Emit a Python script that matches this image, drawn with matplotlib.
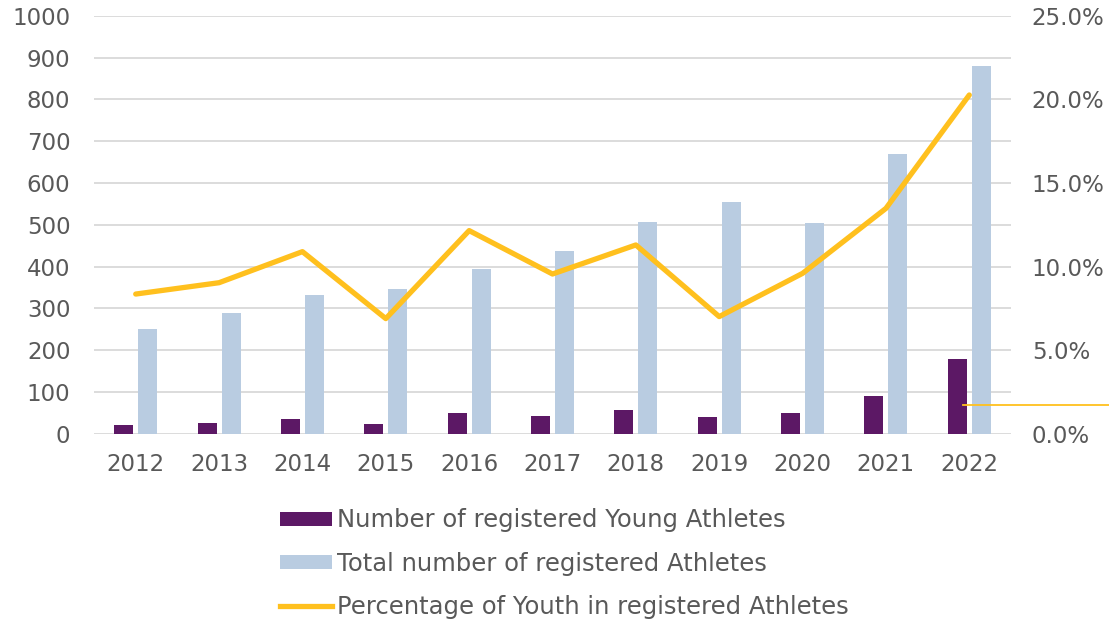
import matplotlib
matplotlib.use("Agg")
import matplotlib.pyplot as plt
import numpy as np
from matplotlib.patches import Patch
from matplotlib.lines import Line2D
from matplotlib.ticker import FuncFormatter

# dados
anos = ['2012', '2013', '2014', '2015', '2016', '2017', '2018', '2019', '2020', '2021', '2022']
jovens = [20, 25, 35, 23, 48, 42, 56, 39, 48, 90, 178]
total = [250, 288, 331, 346, 395, 437, 507, 554, 504, 669, 880]
percentual = [8.35, 9.03, 10.89, 6.88, 12.15, 9.55, 11.29, 7.0, 9.59, 13.48, 20.27]

ROXO = '#5C1865'
AZUL = '#B9CCE1'
AMARELO = '#FFC01E'
CINZA = '#595959'
TAM = 16.5

plt.rcParams['font.family'] = ['DejaVu Sans']

fig = plt.figure(figsize=(11.09, 6.2), dpi=100)
ax = fig.add_axes([0.0848, 0.3008, 0.8268, 0.6734])
x = np.arange(len(anos))
largura = 0.228

ax.bar(x - 0.144, jovens, largura, color=ROXO, zorder=3)
ax.bar(x + 0.144, total, largura, color=AZUL, zorder=3)
ax.set_ylim(0, 1000)
ax.set_xlim(-0.5, len(anos) - 0.5)
ax.set_yticks(range(0, 1001, 100))
ax.set_xticks(x)
ax.set_xticklabels(anos)
ax.grid(axis='y', color='#D9D9D9', linewidth=1.3, zorder=0)
ax.set_axisbelow(True)
for s in ax.spines.values():
    s.set_visible(False)
ax.tick_params(length=0, labelsize=TAM, colors=CINZA, pad=14)
ax.tick_params(axis='y', pad=17)

ax2 = ax.twinx()
ax2.plot(x, percentual, color=AMARELO, linewidth=3.8, solid_capstyle='round', zorder=4)
ax2.set_ylim(0, 25)
ax2.set_yticks(np.arange(0, 25.1, 5))
ax2.yaxis.set_major_formatter(FuncFormatter(lambda v, p: f'{v:.1f}%'))
for s in ax2.spines.values():
    s.set_visible(False)
ax2.tick_params(length=0, labelsize=TAM, colors=CINZA, pad=15)

# linha solta à direita (aparece no original)
fig.add_artist(Line2D([963 / 1109, 1.0], [1 - 405 / 620, 1 - 405 / 620],
                      color=AMARELO, linewidth=1.3, transform=fig.transFigure))

handles = [
    Patch(facecolor=ROXO, label='Number of registered Young Athletes'),
    Patch(facecolor=AZUL, label='Total number of registered Athletes'),
    Line2D([0], [0], color=AMARELO, linewidth=3.8, label='Percentage of Youth in registered Athletes'),
]
fig.legend(handles=handles, loc='upper left', bbox_to_anchor=(0.2525, 0.18),
           frameon=False, fontsize=17.5, labelcolor=CINZA, handlelength=2.15,
           handleheight=0.5, handletextpad=0.2, labelspacing=0.79,
           borderaxespad=0, borderpad=0)

fig.savefig('out.png', dpi=100)
